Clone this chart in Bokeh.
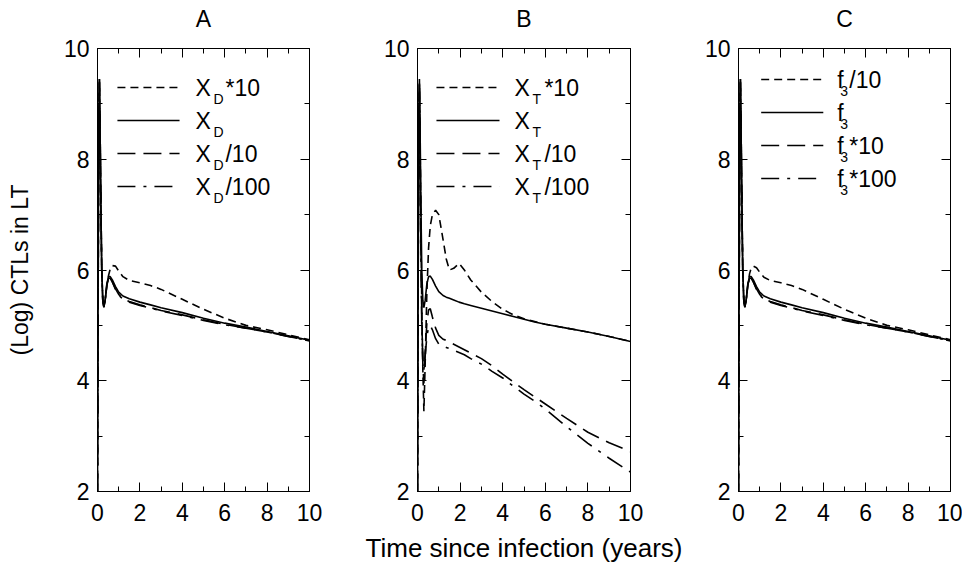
from bokeh.plotting import figure
from bokeh.models import LinearAxis, SingleIntervalTicker, Range1d
from bokeh.core.properties import value
from bokeh.layouts import row, column
from bokeh.embed import file_html
from bokeh.resources import INLINE

# ---------------- data ----------------
# Panel A: varying X_D
t_a = [0, 0.03, 0.06, 0.09, 0.12, 0.16, 0.2, 0.25, 0.3, 0.36, 0.44, 0.52, 0.6,
       0.7, 0.85, 1.0, 1.2, 1.5, 2, 2.5, 3, 4, 5, 6, 7, 8, 9, 10]
a_xd_x10 = [2.0, 5.4, 8.7, 9.4, 8.6, 7.2, 6.0, 5.45, 5.35, 5.45, 5.7, 5.9, 6.02,
            6.08, 6.07, 5.98, 5.88, 5.81, 5.77, 5.72, 5.65, 5.47, 5.29, 5.13, 5.0, 4.92, 4.83, 4.74]
a_xd = [2.0, 5.5, 8.8, 9.45, 8.6, 7.2, 6.0, 5.45, 5.33, 5.45, 5.75, 5.88, 5.88,
        5.82, 5.70, 5.60, 5.53, 5.48, 5.42, 5.37, 5.32, 5.23, 5.13, 5.04, 4.97, 4.89, 4.81, 4.73]
a_xd_d10 = [2.0, 5.5, 8.8, 9.45, 8.6, 7.2, 6.0, 5.45, 5.33, 5.45, 5.73, 5.86, 5.86,
            5.79, 5.66, 5.56, 5.48, 5.43, 5.37, 5.32, 5.27, 5.19, 5.10, 5.02, 4.95, 4.88, 4.80, 4.72]
a_xd_d100 = [2.0, 5.5, 8.8, 9.45, 8.6, 7.2, 6.0, 5.45, 5.33, 5.45, 5.72, 5.85, 5.85,
             5.78, 5.65, 5.55, 5.47, 5.42, 5.36, 5.31, 5.26, 5.18, 5.09, 5.01, 4.95, 4.88, 4.80, 4.72]

# Panel B: varying X_T
t_b = [0, 0.03, 0.06, 0.09, 0.12, 0.16, 0.2, 0.25, 0.3, 0.36, 0.44, 0.52, 0.6, 0.7,
       0.85, 1.0, 1.2, 1.35, 1.5, 1.7, 1.95, 2.2, 2.5, 3, 3.5, 4, 4.5, 5, 5.5, 6, 7, 8, 9, 10]
b_xt_x10 = [2.0, 6.0, 8.6, 9.25, 8.4, 6.8, 5.4, 4.2, 3.45, 4.3, 5.6, 6.4, 6.8, 7.0,
            7.08, 7.0, 6.55, 6.2, 6.0, 6.03, 6.12, 6.0, 5.82, 5.6, 5.43, 5.29, 5.19, 5.12,
            5.07, 5.02, 4.95, 4.88, 4.80, 4.71]
b_xt = [2.0, 5.5, 8.8, 9.45, 8.6, 7.2, 6.0, 5.45, 5.32, 5.45, 5.75, 5.88, 5.89, 5.83,
        5.71, 5.61, 5.54, 5.51, 5.49, 5.46, 5.42, 5.39, 5.36, 5.31, 5.26, 5.21, 5.16, 5.11,
        5.06, 5.02, 4.95, 4.88, 4.80, 4.71]
b_xt_d10 = [2.0, 5.8, 8.9, 9.4, 8.3, 6.6, 5.2, 4.3, 3.95, 4.5, 5.05, 5.28, 5.3, 5.15,
            4.95, 4.82, 4.75, 4.73, 4.70, 4.66, 4.61, 4.56, 4.50, 4.40, 4.27, 4.12, 3.98, 3.84,
            3.71, 3.58, 3.32, 3.07, 2.88, 2.72]
b_xt_d100 = [2.0, 5.7, 8.8, 9.35, 8.2, 6.4, 5.0, 4.4, 4.2, 4.45, 4.8, 4.97, 5.0, 4.92,
             4.76, 4.66, 4.62, 4.60, 4.58, 4.55, 4.51, 4.47, 4.40, 4.30, 4.17, 4.05, 3.90, 3.76,
             3.63, 3.49, 3.17, 2.87, 2.60, 2.35]

# Panel C: varying f_3
t_c = [0, 0.03, 0.06, 0.09, 0.12, 0.16, 0.2, 0.25, 0.3, 0.36, 0.44, 0.52, 0.6,
       0.7, 0.85, 1.0, 1.2, 1.5, 2, 2.5, 3, 4, 5, 6, 7, 8, 9, 10]
c_f3_d10 = [2.0, 5.4, 8.7, 9.4, 8.6, 7.2, 6.0, 5.45, 5.35, 5.45, 5.72, 5.93, 6.04,
            6.07, 6.04, 5.96, 5.87, 5.81, 5.77, 5.72, 5.65, 5.47, 5.29, 5.13, 5.0, 4.92, 4.83, 4.74]
c_f3 = [2.0, 5.5, 8.8, 9.45, 8.6, 7.2, 6.0, 5.45, 5.33, 5.45, 5.75, 5.88, 5.88,
        5.82, 5.70, 5.60, 5.53, 5.48, 5.42, 5.37, 5.32, 5.23, 5.13, 5.04, 4.97, 4.89, 4.81, 4.73]
c_f3_x10 = [2.0, 5.5, 8.8, 9.45, 8.6, 7.2, 6.0, 5.45, 5.33, 5.45, 5.73, 5.86, 5.86,
            5.79, 5.66, 5.56, 5.48, 5.43, 5.37, 5.32, 5.27, 5.19, 5.10, 5.02, 4.95, 4.88, 4.80, 4.72]
c_f3_x100 = [2.0, 5.5, 8.8, 9.45, 8.6, 7.2, 6.0, 5.45, 5.33, 5.45, 5.72, 5.85, 5.85,
             5.78, 5.65, 5.55, 5.47, 5.42, 5.36, 5.31, 5.26, 5.18, 5.09, 5.01, 4.95, 4.88, 4.80, 4.72]

panel_titles = ["A", "B", "C"]
x_ticks_interval = 2
y_ticks_interval = 2
x_label = "Time since infection (years)"
y_label = "(Log) CTLs in LT"

# legend texts: (base, subscript, suffix)
legend_a = [("X", "D", "*10"), ("X", "D", ""), ("X", "D", "/10"), ("X", "D", "/100")]
legend_b = [("X", "T", "*10"), ("X", "T", ""), ("X", "T", "/10"), ("X", "T", "/100")]
legend_c = [("f", "3", "/10"), ("f", "3", ""), ("f", "3", "*10"), ("f", "3", "*100")]

# ---------------- styling / layout ----------------
FONT = "Liberation Sans"
DASHES = ["8 5", "solid", "18 8", "18 8 3 8"]
LW = 1.6
TH = 32            # height of the title strip
H = 567 - TH       # height of each panel figure
TOP = 16           # frame top at TH + TOP = 48
FH = 443
BOTTOM = H - TOP - FH
YPX = FH / 8.0
TITLE_CY = 18      # title centre (page px)


def px_to_y(px):
    # page pixel (from top of page) -> data value in the panel
    return 2 + (FH - (px - TH - TOP)) / YPX


def make_title(title, left, fw, right):
    p = figure(width=left + fw + right, height=TH,
               x_range=Range1d(0, 10), y_range=Range1d(0, TH),
               x_axis_type=None, y_axis_type=None,
               output_backend="svg", toolbar_location=None,
               min_border_left=left, min_border_right=right,
               min_border_top=0, min_border_bottom=0)
    p.outline_line_color = None
    p.xgrid.visible = False
    p.ygrid.visible = False
    p.text([5], [TH - TITLE_CY], text=[title], text_font=value(FONT), text_font_size="23px",
           text_align="center", text_baseline="middle", text_color="black")
    return p


def make_panel(t, series, legend_rows, left, fw, right,
               leg_x0, leg_x1, leg_text_x, leg_y_px, sub_dx, suf_dx,
               show_xlabel=False, show_ylabel=False):
    p = figure(width=left + fw + right, height=H,
               x_range=Range1d(0, 10), y_range=Range1d(2, 10),
               x_axis_type=None, y_axis_type=None,
               output_backend="svg", toolbar_location=None,
               min_border_left=left, min_border_right=right,
               min_border_top=TOP, min_border_bottom=BOTTOM)
    p.outline_line_color = None
    p.xgrid.visible = False
    p.ygrid.visible = False
    p.background_fill_color = "white"
    p.border_fill_color = "white"

    for loc in ["below", "above"]:
        ax = LinearAxis(ticker=SingleIntervalTicker(interval=x_ticks_interval, num_minor_ticks=2))
        p.add_layout(ax, loc)
    for loc in ["left", "right"]:
        ax = LinearAxis(ticker=SingleIntervalTicker(interval=y_ticks_interval, num_minor_ticks=2))
        p.add_layout(ax, loc)
    for ax in p.axis:
        ax.major_tick_in = 9
        ax.major_tick_out = 0
        ax.minor_tick_in = 5
        ax.minor_tick_out = 0
        ax.axis_line_color = "black"
        ax.major_tick_line_color = "black"
        ax.minor_tick_line_color = "black"
        ax.major_label_text_font = FONT
        ax.major_label_text_font_size = "23px"
        ax.major_label_text_color = "black"
    for ax in p.above + p.right:
        ax.major_label_text_font_size = "1px"
        ax.major_label_text_color = None
        ax.major_label_standoff = 0
    p.below[0].major_label_standoff = 12
    p.left[0].major_label_standoff = 8

    for vals, dash in zip(series, DASHES):
        p.line(t, vals, line_color="black", line_width=LW, line_dash=dash)

    # legend (lines + text with subscripts)
    for i, (base, sub, suf) in enumerate(legend_rows):
        ly = leg_y_px[i]
        y = px_to_y(ly)
        p.line([leg_x0, leg_x1], [y, y], line_color="black", line_width=LW, line_dash=DASHES[i])
        ys = px_to_y(ly + 11.5)
        p.text([leg_text_x], [y], text=[base], text_font=value(FONT), text_font_size="23px",
               text_baseline="middle", text_align="left", text_color="black")
        p.text([leg_text_x], [ys], text=[sub], x_offset=sub_dx, text_font=value(FONT),
               text_font_size="14px", text_baseline="middle", text_align="left",
               text_color="black")
        if suf:
            p.text([leg_text_x], [y], text=[suf], x_offset=suf_dx, text_font=value(FONT),
                   text_font_size="23px", text_baseline="middle", text_align="left",
                   text_color="black")

    if show_xlabel:
        ax = p.below[0]
        ax.axis_label = x_label
        ax.axis_label_text_font = FONT
        ax.axis_label_text_font_size = "26px"
        ax.axis_label_text_font_style = "normal"
        ax.axis_label_text_color = "black"
        ax.axis_label_standoff = 9
    if show_ylabel:
        ax = p.left[0]
        ax.axis_label = y_label
        ax.axis_label_text_font = FONT
        ax.axis_label_text_font_size = "23px"
        ax.axis_label_text_font_style = "normal"
        ax.axis_label_text_color = "black"
        ax.axis_label_standoff = 28
    return p


dims_a = (97, 212, 54)
dims_b = (54, 213, 54)
dims_c = (54, 212, 12)

tA = make_title(panel_titles[0], *dims_a)
tB = make_title(panel_titles[1], *dims_b)
tC = make_title(panel_titles[2], *dims_c)

pA = make_panel(t_a, [a_xd_x10, a_xd, a_xd_d10, a_xd_d100], legend_a,
                *dims_a, 0.94, 3.87, 4.62, [87, 120, 153, 186], 18, 30,
                show_ylabel=True)
pB = make_panel(t_b, [b_xt_x10, b_xt, b_xt_d10, b_xt_d100], legend_b,
                *dims_b, 0.89, 3.85, 4.55, [87, 120, 153, 186], 18, 30,
                show_xlabel=True)
pC = make_panel(t_c, [c_f3_d10, c_f3, c_f3_x10, c_f3_x100], legend_c,
                *dims_c, 1.07, 4.0, 4.66, [79, 112, 145, 178], 3, 12)

layout = column(row(tA, tB, tC), row(pA, pB, pC))
open("out.html", "w").write(file_html(layout, INLINE))
